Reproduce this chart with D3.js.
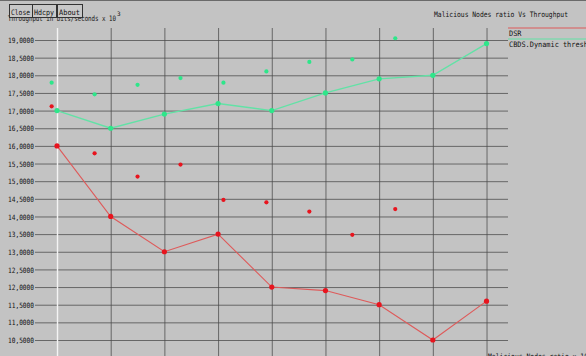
<!DOCTYPE html>
<html>
<head>
<meta charset="utf-8">
<script src="https://cdn.jsdelivr.net/npm/d3@7"></script>
<style>
  html, body { margin: 0; padding: 0; background: #c3c3c3; }
  svg { display: block; }
  text { font-family: "DejaVu Sans Mono", monospace; fill: #111; }
</style>
</head>
<body>
<svg id="chart" width="586" height="356"></svg>
<script>
// Malicious nodes ratio (x) vs throughput (bits/s x 10^3)
const xTicks = [0, 1, 2, 3, 4, 5, 6, 7, 8];
const yTicks = [10.5, 11, 11.5, 12, 12.5, 13, 13.5, 14, 14.5, 15, 15.5, 16, 16.5, 17, 17.5, 18, 18.5, 19];
const yTickLabels = ["10,5000", "11,0000", "11,5000", "12,0000", "12,5000", "13,0000", "13,5000", "14,0000",
  "14,5000", "15,0000", "15,5000", "16,0000", "16,5000", "17,0000", "17,5000", "18,0000", "18,5000", "19,0000"];

// Connected series
const lineX = [0, 1, 2, 3, 4, 5, 6, 7, 8];
const dsrValues = [16.0, 14.0, 13.0, 13.5, 12.0, 11.9, 11.5, 10.5, 11.6];
const cbdsValues = [17.0, 16.5, 16.9, 17.2, 17.0, 17.5, 17.9, 18.0, 18.9];

// Unconnected sample points
const scatterX = [-0.1, 0.7, 1.5, 2.3, 3.1, 3.9, 4.7, 5.5, 6.3];
const dsrPoints = [17.12, 15.79, 15.13, 15.47, 14.47, 14.40, 14.14, 13.48, 14.21];
const cbdsPoints = [17.79, 17.46, 17.73, 17.92, 17.79, 18.11, 18.38, 18.45, 19.05];

const seriesNames = ["DSR", "CBDS.Dynamic threshold"];
const buttons = ["Close", "Hdcpy", "About"];

const red = "#e8141e", redLine = "#de5a5a";
const green = "#2ee68a", greenLine = "#62e2a6";

const svg = d3.select("#chart");
const plotLeft = 35, plotRight = 508, plotTop = 28, plotBottom = 372;

const x = d3.scaleLinear().domain([-0.41, 8.4]).range([plotLeft, plotRight]);
const y = d3.scaleLinear().domain([10.5, 19]).range([340, 40]);

svg.append("rect").attr("width", 586).attr("height", 356).attr("fill", "#c3c3c3");
svg.append("line").attr("x1", 0).attr("x2", 586).attr("y1", 0.5).attr("y2", 0.5)
  .attr("stroke", "#6a6a6a").attr("stroke-width", 1);

// Horizontal grid with tick labels
const yAxis = d3.axisLeft(y).tickValues(yTicks)
  .tickFormat((d, i) => yTickLabels[i])
  .tickSizeInner(-(plotRight - plotLeft)).tickSizeOuter(0).tickPadding(1);
const gy = svg.append("g").attr("transform", `translate(${plotLeft},0)`).call(yAxis);
gy.select(".domain").remove();
gy.selectAll(".tick line").attr("stroke", "#4a4a4a").attr("stroke-width", 0.9).attr("opacity", 0.85);
gy.selectAll(".tick text").attr("font-size", 7.3).attr("fill", "#222")
  .attr("font-family", "DejaVu Sans Mono, monospace").attr("dy", "0.36em")
  .attr("textLength", 26).attr("lengthAdjust", "spacingAndGlyphs");

// Vertical grid
const xAxis = d3.axisBottom(x).tickValues(xTicks).tickFormat("")
  .tickSizeInner(-(plotBottom - plotTop)).tickSizeOuter(0);
const gx = svg.append("g").attr("transform", `translate(0,${plotBottom})`).call(xAxis);
gx.select(".domain").remove();
gx.selectAll(".tick line")
  .attr("stroke", d => d === 0 ? "#f4f4f4" : "#4a4a4a")
  .attr("stroke-width", d => d === 0 ? 1.4 : 0.9)
  .attr("opacity", d => d === 0 ? 1 : 0.85);

// Lines
const line = d3.line().x((d, i) => x(lineX[i])).y(d => y(d));
svg.append("path").datum(dsrValues).attr("d", line)
  .attr("fill", "none").attr("stroke", redLine).attr("stroke-width", 1.1);
svg.append("path").datum(cbdsValues).attr("d", line)
  .attr("fill", "none").attr("stroke", greenLine).attr("stroke-width", 1.4);

function dots(xs, vs, color, r) {
  svg.append("g").selectAll("circle").data(vs).join("circle")
    .attr("cx", (d, i) => x(xs[i])).attr("cy", d => y(d)).attr("r", r).attr("fill", color);
}
dots(lineX, dsrValues, red, 2.6);
dots(lineX, cbdsValues, green, 2.6);
dots(scatterX, dsrPoints, red, 2.1);
dots(scatterX, cbdsPoints, green, 2.1);

// Axis titles and chart title
svg.append("text").attr("x", 8).attr("y", 21).attr("font-size", 7.5)
  .attr("textLength", 108).attr("lengthAdjust", "spacingAndGlyphs")
  .text("Throughput in bits/seconds x 10");
svg.append("text").attr("x", 117).attr("y", 16).attr("font-size", 6).text("3");

svg.append("text").attr("x", 434).attr("y", 17).attr("font-size", 7.5)
  .attr("textLength", 134).attr("lengthAdjust", "spacingAndGlyphs")
  .text("Malicious Nodes ratio Vs Throughput");

svg.append("text").attr("x", 488).attr("y", 359).attr("font-size", 7.5)
  .attr("textLength", 100).attr("lengthAdjust", "spacingAndGlyphs")
  .text("Malicious Nodes ratio x 10");

// Legend
const legend = svg.append("g");
seriesNames.forEach((name, i) => {
  const ly = 28 + i * 11;
  legend.append("line").attr("x1", 508).attr("x2", 586).attr("y1", ly).attr("y2", ly)
    .attr("stroke", i === 0 ? redLine : greenLine).attr("stroke-width", 1.2);
  legend.append("text").attr("x", 509).attr("y", ly + 8).attr("font-size", 7.5)
    .attr("textLength", name.length * 4.15).attr("lengthAdjust", "spacingAndGlyphs")
    .text(name);
});

// Control buttons
const bx = [9, 32, 57], bw = [23, 24, 25];
buttons.forEach((b, i) => {
  svg.append("rect").attr("x", bx[i] + 0.5).attr("y", 4.5).attr("width", bw[i]).attr("height", 13)
    .attr("fill", "#c8c8c8").attr("stroke", "#333").attr("stroke-width", 1);
  svg.append("text").attr("x", bx[i] + 2).attr("y", 14.5).attr("font-size", 7.5)
    .attr("textLength", bw[i] - 4).attr("lengthAdjust", "spacingAndGlyphs").text(b);
});
</script>
</body>
</html>
